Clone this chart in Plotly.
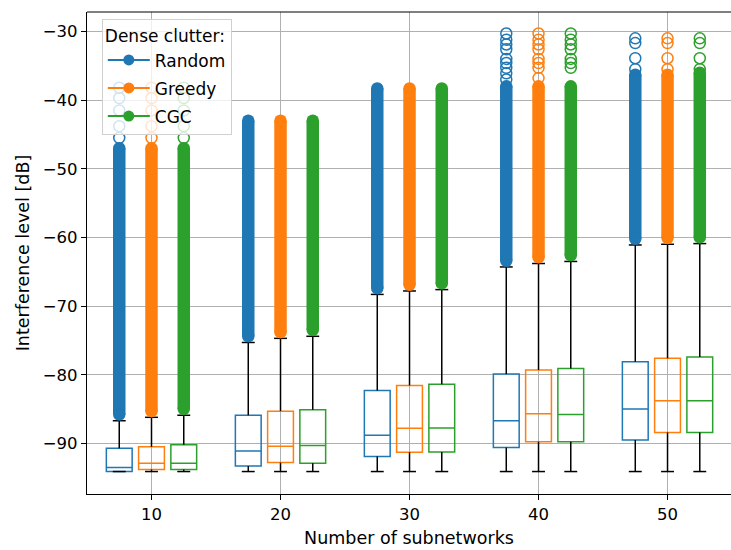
import plotly.graph_objects as go

# ---------------- data ----------------
groups = [10, 20, 30, 40, 50]
series_names = ["Random", "Greedy", "CGC"]
series_offsets = [-2.5, 0.0, 2.5]
series_colors = ["#1f77b4", "#ff7f0e", "#2ca02c"]

random_q1 = [-94.1, -93.3, -91.9, -90.6, -89.5]
random_med = [-93.5, -91.1, -88.8, -86.7, -85.0]
random_q3 = [-90.7, -85.9, -82.3, -79.9, -78.1]
random_wlo = [-94.1, -94.1, -94.1, -94.1, -94.1]
random_whi = [-86.7, -75.3, -68.3, -64.3, -61.1]
random_dense_top = [-47.0, -43.0, -38.3, -38.0, -36.3]
random_sparse = [[-45.5, -43.8, -41.5, -39.7, -38.2],
                 [],
                 [],
                 [-37.0, -36.1, -35.3, -34.6, -34.0, -32.6, -31.9, -31.2, -30.3],
                 [-35.5, -33.9, -31.7, -31.0]]

greedy_q1 = [-93.8, -92.8, -91.3, -89.75, -88.4]
greedy_med = [-92.9, -90.4, -87.8, -85.7, -83.8]
greedy_q3 = [-90.5, -85.3, -81.55, -79.3, -77.6]
greedy_wlo = [-94.1, -94.1, -94.1, -94.1, -94.1]
greedy_whi = [-86.2, -74.7, -67.8, -63.8, -61.0]
greedy_dense_top = [-47.0, -43.0, -38.3, -38.0, -36.3]
greedy_sparse = [[-45.5, -43.8, -41.5, -39.7, -38.2],
                 [],
                 [],
                 [-36.8, -35.3, -34.6, -34.0, -32.6, -31.9, -31.2, -30.3],
                 [-35.5, -33.9, -31.7, -31.0]]

cgc_q1 = [-93.8, -92.9, -91.25, -89.75, -88.4]
cgc_med = [-92.9, -90.3, -87.75, -85.8, -83.8]
cgc_q3 = [-90.2, -85.1, -81.4, -79.1, -77.4]
cgc_wlo = [-94.1, -94.1, -94.1, -94.1, -94.1]
cgc_whi = [-85.9, -74.4, -67.6, -63.5, -60.9]
cgc_dense_top = [-47.0, -43.0, -38.3, -38.0, -36.0]
cgc_sparse = [[-45.5, -43.8, -41.5, -39.7, -38.2],
              [],
              [],
              [-35.3, -34.6, -34.0, -32.6, -31.9, -31.2, -30.3],
              [-35.5, -33.9, -31.7, -31.0]]

x_ticks = [10, 20, 30, 40, 50]
y_ticks = [-90, -80, -70, -60, -50, -40, -30]

# ---------------- figure ----------------
BOX_W = 2.0
CAP_HALF = 0.5
FONT = "DejaVu Sans"

stats = [
    (random_q1, random_med, random_q3, random_wlo, random_whi, random_dense_top, random_sparse),
    (greedy_q1, greedy_med, greedy_q3, greedy_wlo, greedy_whi, greedy_dense_top, greedy_sparse),
    (cgc_q1, cgc_med, cgc_q3, cgc_wlo, cgc_whi, cgc_dense_top, cgc_sparse),
]

fig = go.Figure()

# whiskers (black)
wx, wy = [], []
for (q1, med, q3, wlo, whi, dtop, sp), off in zip(stats, series_offsets):
    for g, a, b, lo, hi in zip(groups, q1, q3, wlo, whi):
        p = g + off
        wx += [p, p, None, p, p, None, p - CAP_HALF, p + CAP_HALF, None, p - CAP_HALF, p + CAP_HALF, None]
        wy += [lo, a, None, b, hi, None, lo, lo, None, hi, hi, None]
fig.add_trace(go.Scatter(x=wx, y=wy, mode="lines", line=dict(color="black", width=1.5),
                         showlegend=False, hoverinfo="skip"))

for name, (q1, med, q3, wlo, whi, dtop, sp), off, col in zip(series_names, stats, series_offsets, series_colors):
    pos = [g + off for g in groups]
    # dense flier band
    bx, by = [], []
    for p, lo, hi in zip(pos, whi, dtop):
        bx += [p, p, None]
        by += [lo + 0.9, hi, None]
    fig.add_trace(go.Scatter(x=bx, y=by, mode="lines", line=dict(color=col, width=12.5),
                             showlegend=False, hoverinfo="skip"))
    ex, ey = [], []
    for p, lo, hi in zip(pos, whi, dtop):
        ex += [p, p]
        ey += [lo + 0.9, hi]
    fig.add_trace(go.Scatter(x=ex, y=ey, mode="markers",
                             marker=dict(symbol="circle", size=12.5, color=col),
                             showlegend=False, hoverinfo="skip"))
    # sparse fliers
    sx, sy = [], []
    for p, vals in zip(pos, sp):
        for v in vals:
            sx.append(p)
            sy.append(v)
    fig.add_trace(go.Scatter(x=sx, y=sy, mode="markers",
                             marker=dict(symbol="circle-open", size=11, color=col,
                                         line=dict(width=1.5, color=col)),
                             showlegend=False, hoverinfo="skip"))
    # boxes
    fig.add_trace(go.Box(x=pos, q1=q1, median=med, q3=q3, lowerfence=q1, upperfence=q3,
                         width=BOX_W, whiskerwidth=0, fillcolor="rgba(0,0,0,0)",
                         line=dict(color=col, width=1.5), showlegend=False,
                         boxpoints=False, hoverinfo="skip"))

# legend entries
for name, col in zip(series_names, series_colors):
    fig.add_trace(go.Scatter(x=[None], y=[None], mode="lines+markers", name=name,
                             legendgroup=name,
                             line=dict(color=col, width=2),
                             marker=dict(symbol="circle", size=11, color=col)))

fig.update_layout(
    width=731, height=550,
    margin=dict(l=87, r=0, t=12, b=56),
    paper_bgcolor="white", plot_bgcolor="white",
    font=dict(family=FONT, size=16.5, color="black"),
    boxmode="overlay",
    showlegend=True,
    legend=dict(
        title=dict(text="Dense clutter:", font=dict(size=17, family=FONT)),
        font=dict(size=17, family=FONT),
        x=0.023, y=0.985, xanchor="left", yanchor="top",
        bgcolor="rgba(255,255,255,0.8)", bordercolor="#d0d0d0", borderwidth=1,
        traceorder="grouped", tracegroupgap=3, itemwidth=42,
    ),
    xaxis=dict(
        range=[5, 54.92], tickmode="array", tickvals=x_ticks,
        showgrid=True, gridcolor="#b0b0b0", gridwidth=0.8,
        showline=True, linecolor="black", linewidth=1.2, mirror=False,
        ticks="outside", ticklen=5, tickcolor="black",
        zeroline=False,
        title=dict(text="Number of subnetworks", font=dict(size=17.5, family=FONT), standoff=8),
    ),
    yaxis=dict(
        range=[-97.37, -27.17], tickmode="array", tickvals=y_ticks,
        showgrid=True, gridcolor="#b0b0b0", gridwidth=0.8,
        showline=True, linecolor="black", linewidth=1.2, mirror=False,
        ticks="outside", ticklen=5, tickcolor="black",
        zeroline=False,
        title=dict(text="Interference level [dB]", font=dict(size=17.5, family=FONT), standoff=8),
    ),
)
# top spine
fig.add_shape(type="line", xref="paper", yref="paper", x0=0, x1=1, y0=1, y1=1,
              line=dict(color="black", width=1.2))

fig.write_html("out.html", config={"displayModeBar": False},
               post_script="document.body.style.margin='0px';")
